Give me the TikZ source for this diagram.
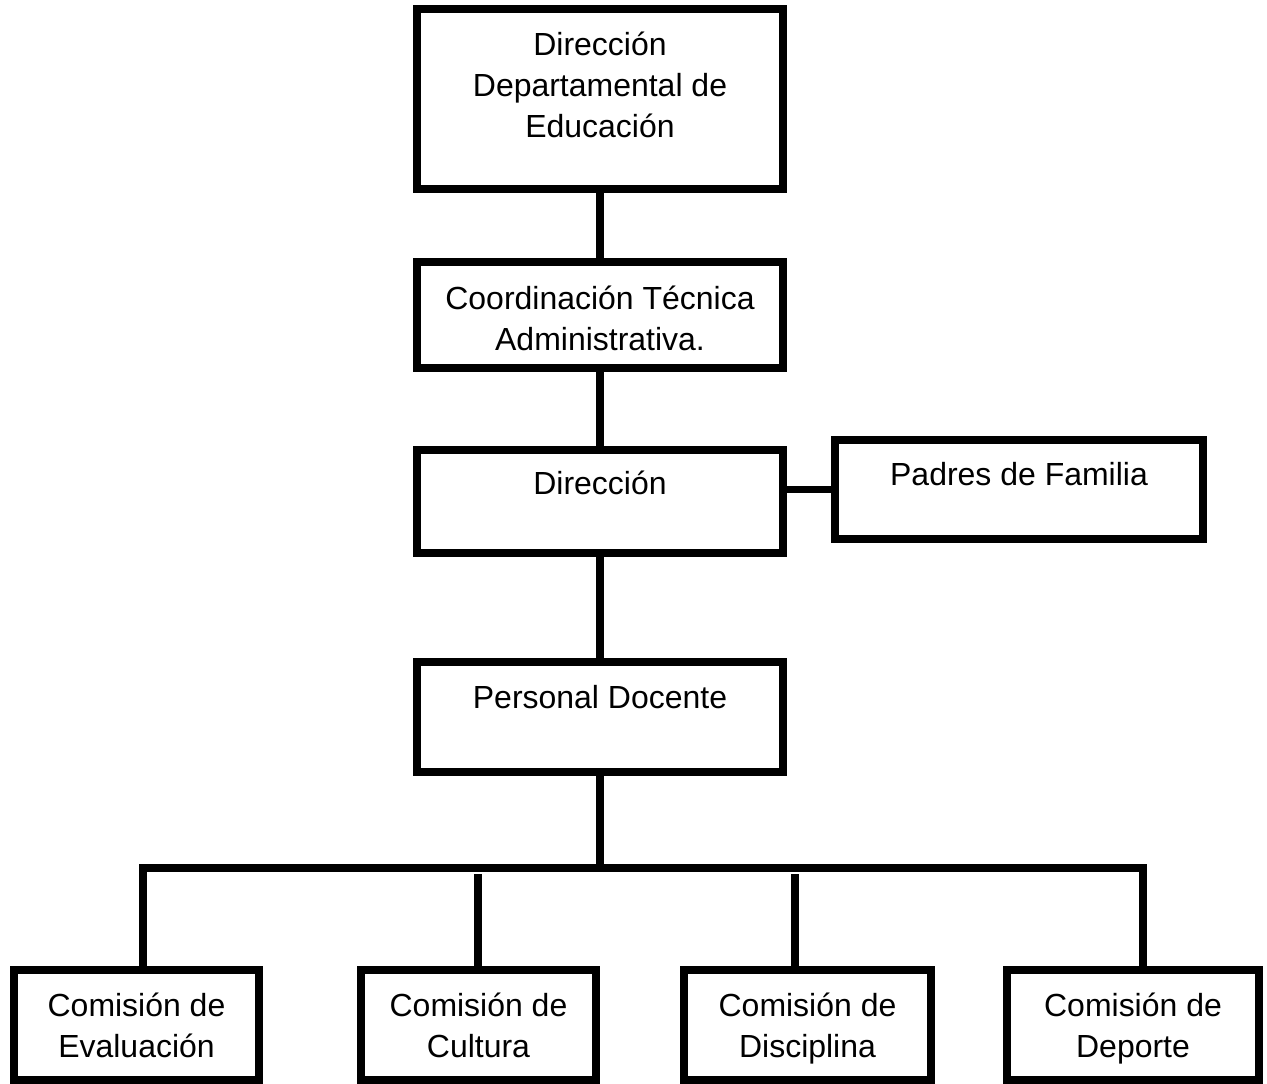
\documentclass[tikz,border=0pt]{standalone}
\usepackage{fontspec}
\setmainfont{Liberation Sans}
\usetikzlibrary{calc}
\tikzstyle{unit} = [draw,rectangle,line width=4.5pt,minimum width=7.32cm]
\tikzstyle{comision} = [unit,minimum height=2.2cm]
\tikzstyle{boxtext} = [align=center,inner sep=0pt,font=\fontsize{18.2}{23.3}\selectfont]
\tikzstyle{line} = [line width=4.5pt]

\begin{document}
\begin{tikzpicture}[x=0.02cm, y=-0.02cm]
    \useasboundingbox (0,0) rectangle (1267,1084);

    % main column of boxes
    \node[unit, minimum height=3.6cm] (dde) at (600,99) {};
    \node[unit, minimum height=2.12cm] (cta) at (600,315) {};
    \node[unit, minimum height=2.06cm] (dir) at (600,501.5) {};
    \node[unit, minimum width=7.36cm, minimum height=1.98cm] (pf) at (1019,489.5) {};
    \node[unit, minimum height=2.2cm] (pd) at (600,717) {};

    % the four commissions
    \node[comision, minimum width=4.9cm] (ev) at (136.5,1025) {};
    \node[comision, minimum width=4.7cm] (cu) at (478.5,1025) {};
    \node[comision, minimum width=4.94cm] (di) at (807.5,1025) {};
    \node[comision, minimum width=5.04cm] (de) at (1133,1025) {};

    % texts
    \node[boxtext] (dde-t) at (600,85) {Dirección\\Departamental de\\Educación};
    \node[boxtext] (cta-t) at (600,318.5) {Coordinación Técnica\\Administrativa.};
    \node[boxtext] (dir-t) at (600,483) {Dirección};
    \node[boxtext] (pf-t) at (1019,474) {Padres de Familia};
    \node[boxtext] (pd-t) at (600,697) {Personal Docente};
    \node[boxtext] (ev-t) at (136.5,1031) {Comisión de\\Evaluación\strut};
    \node[boxtext] (cu-t) at (478.5,1031) {Comisión de\\Cultura\strut};
    \node[boxtext] (di-t) at (807.5,1031) {Comisión de\\Disciplina\strut};
    \node[boxtext] (de-t) at (1133,1031) {Comisión de\\Deporte\strut};

    % bus coordinates
    \coordinate (bus) at (600,868);
    \coordinate (b1) at (143,868);
    \coordinate (b2) at (478,874);
    \coordinate (b3) at (795,874);
    \coordinate (b4) at (1143,868);

    % now link the nodes
    \draw [line] (dde) -- (cta);
    \draw [line] (cta) -- (dir);
    \draw [line] (dir) -- (pd);
    \draw [line] (pf.west) -- (pf.west -| dir.east);
    \draw [line] (pd) -- (bus);
    \draw [line] (ev.north -| b1) -- (b1) -- (b4) -- (de.north -| b4);
    \draw [line] (b2) -- (cu.north -| b2);
    \draw [line] (b3) -- (di.north -| b3);
\end{tikzpicture}
\end{document}
